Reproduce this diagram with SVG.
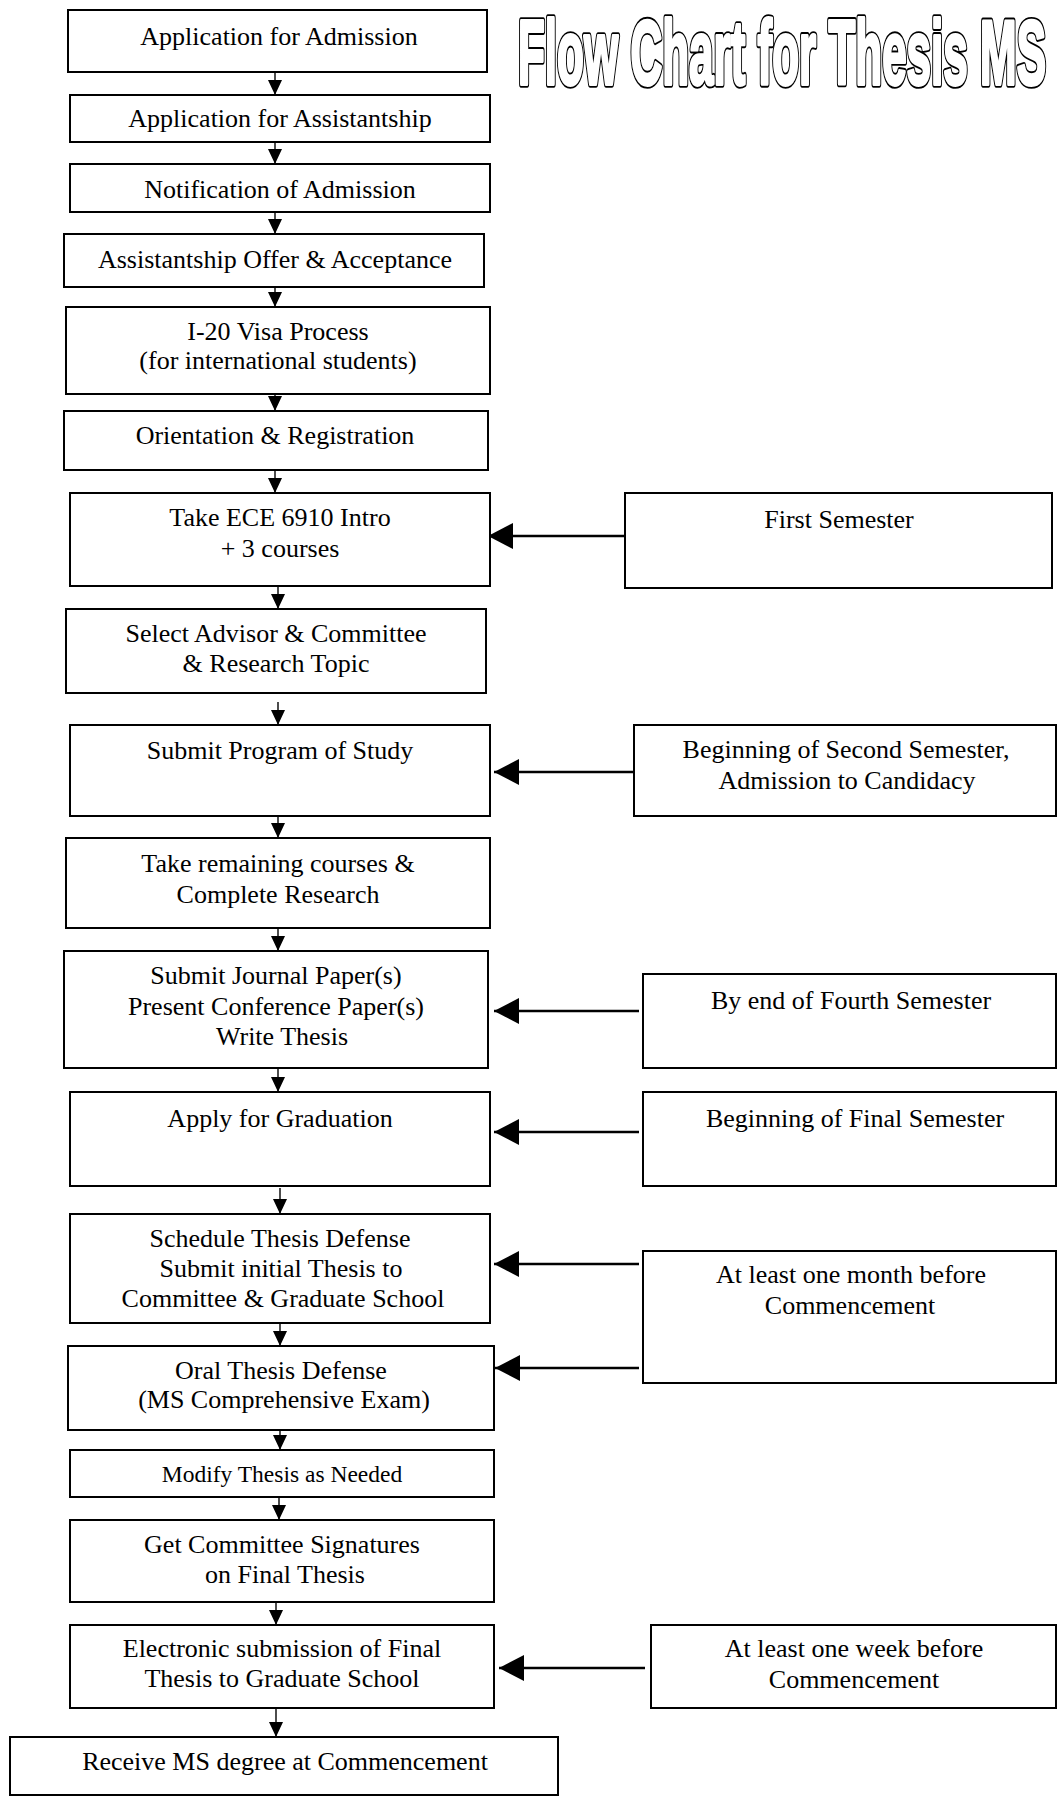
<svg xmlns="http://www.w3.org/2000/svg" width="1058" height="1798" viewBox="0 0 1058 1798">
<style>
.b{fill:#fff;stroke:#000;stroke-width:2}
.t{font-family:"Liberation Serif","Times New Roman",serif;font-size:26px;text-anchor:middle;fill:#000}
.s{font-size:23.5px}
.d{stroke:#000;stroke-width:1.4;fill:none}
.h{stroke:#000;stroke-width:2.5;fill:none}
.title{font-family:"Liberation Sans",Arial,sans-serif;font-weight:bold;font-size:44px}
.to{fill:#000;stroke:#000;stroke-width:6;stroke-linejoin:round;vector-effect:non-scaling-stroke}
.ti{fill:#fff;stroke:#fff;stroke-width:3;stroke-linejoin:round;vector-effect:non-scaling-stroke}
</style>
<defs>
<marker id="dn" markerUnits="userSpaceOnUse" markerWidth="15" markerHeight="14" refX="15" refY="7" orient="auto"><path d="M0,0 L15,7 L0,14 z" fill="#000"/></marker>
<marker id="lg" markerUnits="userSpaceOnUse" markerWidth="25" markerHeight="26" refX="25" refY="13" orient="auto"><path d="M0,0 L25,13 L0,26 z" fill="#000"/></marker>
</defs>
<rect width="1058" height="1798" fill="#fff"/>
<g id="title" transform="translate(518,84) scale(1,2.08)">
<text class="title to" x="0" y="0">Flow Chart for Thesis MS</text>
<text class="title ti" x="0" y="0">Flow Chart for Thesis MS</text>
</g>

<g id="connectors">
<line class="d" x1="275" y1="72" x2="275" y2="95" marker-end="url(#dn)"/>
<line class="d" x1="275" y1="142" x2="275" y2="164" marker-end="url(#dn)"/>
<line class="d" x1="275" y1="212" x2="275" y2="234" marker-end="url(#dn)"/>
<line class="d" x1="275" y1="285" x2="275" y2="307" marker-end="url(#dn)"/>
<line class="d" x1="275" y1="383" x2="275" y2="411" marker-end="url(#dn)"/>
<line class="d" x1="275" y1="470" x2="275" y2="493" marker-end="url(#dn)"/>
<line class="d" x1="278" y1="586" x2="278" y2="609" marker-end="url(#dn)"/>
<line class="d" x1="278" y1="702" x2="278" y2="725" marker-end="url(#dn)"/>
<line class="d" x1="278" y1="816" x2="278" y2="838" marker-end="url(#dn)"/>
<line class="d" x1="278" y1="928" x2="278" y2="951" marker-end="url(#dn)"/>
<line class="d" x1="278" y1="1068" x2="278" y2="1092" marker-end="url(#dn)"/>
<line class="d" x1="280" y1="1188" x2="280" y2="1214" marker-end="url(#dn)"/>
<line class="d" x1="280" y1="1323" x2="280" y2="1346" marker-end="url(#dn)"/>
<line class="d" x1="280" y1="1430" x2="280" y2="1450" marker-end="url(#dn)"/>
<line class="d" x1="279" y1="1497" x2="279" y2="1520" marker-end="url(#dn)"/>
<line class="d" x1="276" y1="1602" x2="276" y2="1625" marker-end="url(#dn)"/>
<line class="d" x1="276" y1="1708" x2="276" y2="1737" marker-end="url(#dn)"/>
<line class="h" x1="632" y1="536" x2="488" y2="536" marker-end="url(#lg)"/>
<line class="h" x1="639" y1="772" x2="494" y2="772" marker-end="url(#lg)"/>
<line class="h" x1="639" y1="1011" x2="494" y2="1011" marker-end="url(#lg)"/>
<line class="h" x1="639" y1="1132" x2="494" y2="1132" marker-end="url(#lg)"/>
<line class="h" x1="639" y1="1264" x2="494" y2="1264" marker-end="url(#lg)"/>
<line class="h" x1="639" y1="1368" x2="495" y2="1368" marker-end="url(#lg)"/>
<line class="h" x1="645" y1="1668" x2="499" y2="1668" marker-end="url(#lg)"/>
</g>

<g id="n1"><rect class="b" x="68" y="10" width="419" height="62"/><text class="t" x="279" y="45">Application for Admission</text></g>
<g id="n2"><rect class="b" x="70" y="95" width="420" height="47"/><text class="t" x="280" y="127">Application for Assistantship</text></g>
<g id="n3"><rect class="b" x="70" y="164" width="420" height="48"/><text class="t" x="280" y="198">Notification of Admission</text></g>
<g id="n4"><rect class="b" x="64" y="234" width="420" height="53"/><text class="t" x="275" y="268">Assistantship Offer &amp; Acceptance</text></g>
<g id="n5"><rect class="b" x="66" y="307" width="424" height="87"/><text class="t" x="278" y="340">I-20 Visa Process</text><text class="t" x="278" y="369">(for international students)</text></g>
<g id="n6"><rect class="b" x="64" y="411" width="424" height="59"/><text class="t" x="275" y="444">Orientation &amp; Registration</text></g>
<g id="n7"><rect class="b" x="70" y="493" width="420" height="93"/><text class="t" x="280" y="526">Take ECE 6910 Intro</text><text class="t" x="280" y="557">+ 3 courses</text></g>
<g id="n8"><rect class="b" x="66" y="609" width="420" height="84"/><text class="t" x="276" y="642">Select Advisor &amp; Committee</text><text class="t" x="276" y="672">&amp; Research Topic</text></g>
<g id="n9"><rect class="b" x="70" y="725" width="420" height="91"/><text class="t" x="280" y="759">Submit Program of Study</text></g>
<g id="n10"><rect class="b" x="66" y="838" width="424" height="90"/><text class="t" x="278" y="872">Take remaining courses &amp;</text><text class="t" x="278" y="903">Complete Research</text></g>
<g id="n11"><rect class="b" x="64" y="951" width="424" height="117"/><text class="t" x="276" y="984">Submit Journal Paper(s)</text><text class="t" x="276" y="1015">Present Conference Paper(s)</text><text class="t" x="282" y="1045">Write Thesis</text></g>
<g id="n12"><rect class="b" x="70" y="1092" width="420" height="94"/><text class="t" x="280" y="1127">Apply for Graduation</text></g>
<g id="n13"><rect class="b" x="70" y="1214" width="420" height="109"/><text class="t" x="280" y="1247">Schedule Thesis Defense</text><text class="t" x="281" y="1277">Submit initial Thesis to</text><text class="t" x="283" y="1307">Committee &amp; Graduate School</text></g>
<g id="n14"><rect class="b" x="68" y="1346" width="426" height="84"/><text class="t" x="281" y="1379">Oral Thesis Defense</text><text class="t" x="284" y="1408">(MS Comprehensive Exam)</text></g>
<g id="n15"><rect class="b" x="70" y="1450" width="424" height="47"/><text class="t s" x="282" y="1482">Modify Thesis as Needed</text></g>
<g id="n16"><rect class="b" x="70" y="1520" width="424" height="82"/><text class="t" x="282" y="1553">Get Committee Signatures</text><text class="t" x="285" y="1583">on Final Thesis</text></g>
<g id="n17"><rect class="b" x="70" y="1625" width="424" height="83"/><text class="t" x="282" y="1657">Electronic submission of Final</text><text class="t" x="282" y="1687">Thesis to Graduate School</text></g>
<g id="n18"><rect class="b" x="10" y="1737" width="548" height="58"/><text class="t" x="285" y="1770">Receive MS degree at Commencement</text></g>

<g id="r1"><rect class="b" x="625" y="493" width="427" height="95"/><text class="t" x="839" y="528">First Semester</text></g>
<g id="r2"><rect class="b" x="634" y="725" width="422" height="91"/><text class="t" x="846" y="758">Beginning of Second Semester,</text><text class="t" x="847" y="789">Admission to Candidacy</text></g>
<g id="r3"><rect class="b" x="643" y="974" width="413" height="94"/><text class="t" x="851" y="1009">By end of Fourth Semester</text></g>
<g id="r4"><rect class="b" x="643" y="1092" width="413" height="94"/><text class="t" x="855" y="1127">Beginning of Final Semester</text></g>
<g id="r5"><rect class="b" x="643" y="1251" width="413" height="132"/><text class="t" x="851" y="1283">At least one month before</text><text class="t" x="850" y="1314">Commencement</text></g>
<g id="r6"><rect class="b" x="651" y="1625" width="405" height="83"/><text class="t" x="854" y="1657">At least one week before</text><text class="t" x="854" y="1688">Commencement</text></g>
</svg>
